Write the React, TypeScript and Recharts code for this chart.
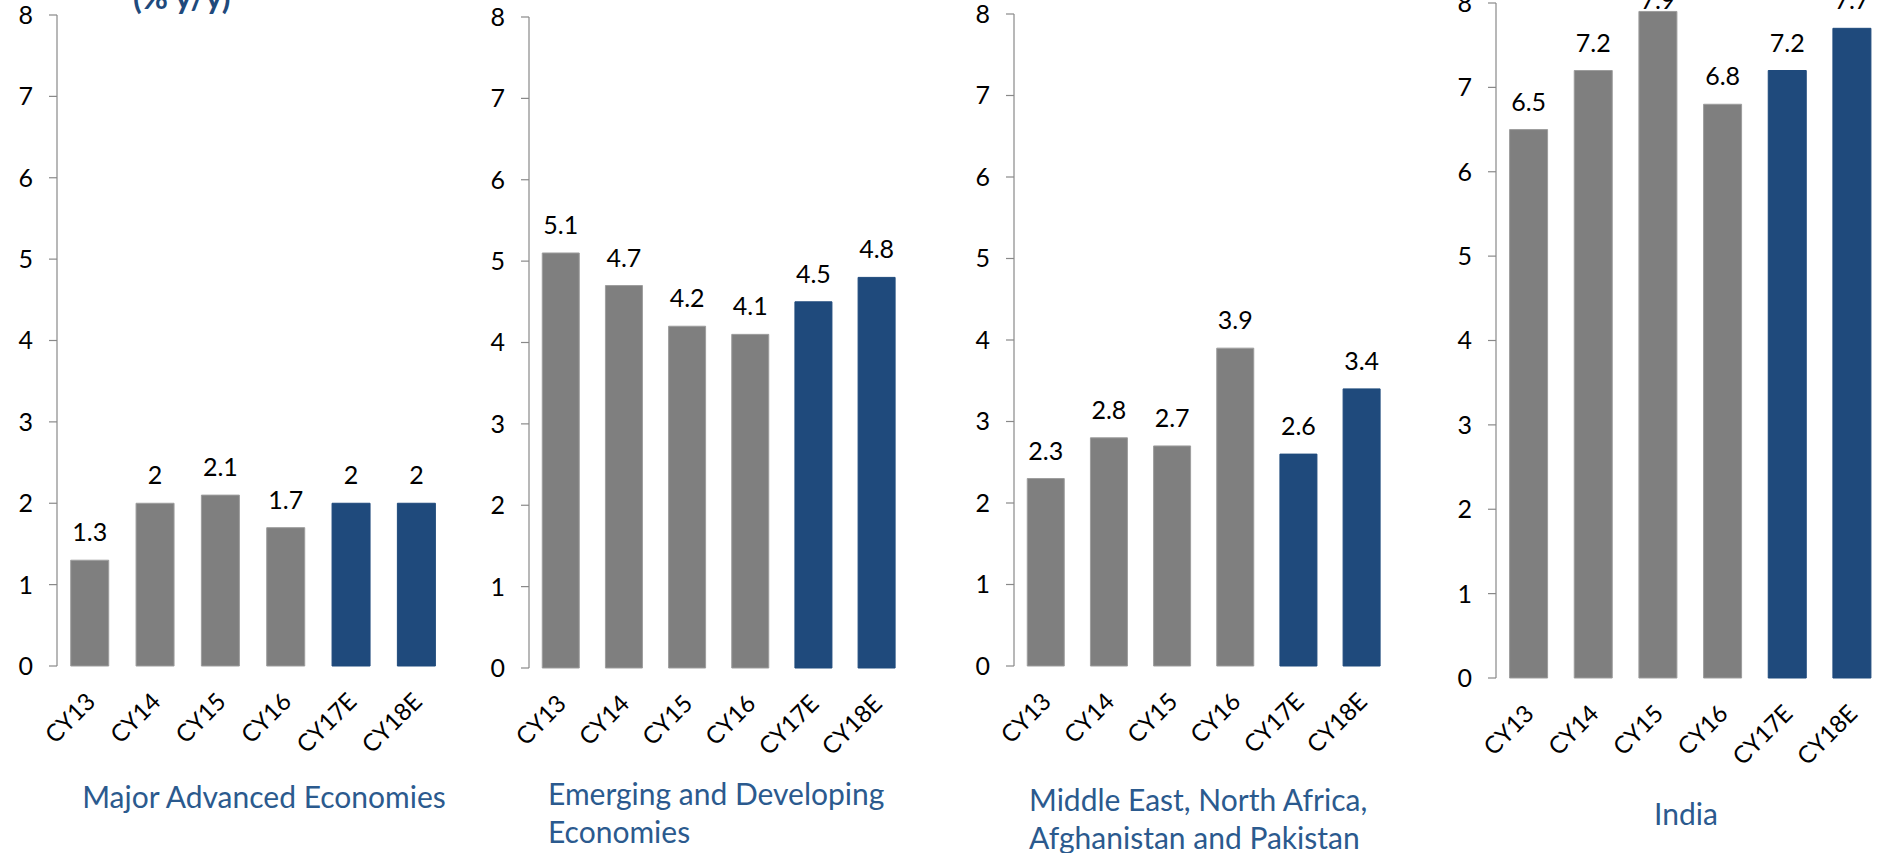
import React from "react";
import { BarChart, Bar, XAxis, YAxis, Cell, LabelList } from "recharts";

const YEARS = ["CY13", "CY14", "CY15", "CY16", "CY17E", "CY18E"];
const IS_ESTIMATE = [false, false, false, false, true, true];
const Y_TICKS = [0, 1, 2, 3, 4, 5, 6, 7, 8];
const EDGE_TICKS = [0, 1, 2, 3, 4, 5, 6];

const ADVANCED = [1.3, 2, 2.1, 1.7, 2, 2];
const EMERGING = [5.1, 4.7, 4.2, 4.1, 4.5, 4.8];
const MENAP = [2.3, 2.8, 2.7, 3.9, 2.6, 3.4];
const INDIA = [6.5, 7.2, 7.9, 6.8, 7.2, 7.7];

const FONT = "Lato, 'Open Sans', sans-serif";
const GREY = "#7f7f7f";
const BLUE = "#1f4a7c";
const AXIS = "#898989";
const CAPTION = "#2b5a8e";

const Y_W = 60;
const TOP = 20;
const X_H = 110;

const panels = [
  { values: ADVANCED, left: 57, top: 15, width: 392, height: 651 },
  { values: EMERGING, left: 529, top: 17, width: 379, height: 651 },
  { values: MENAP, left: 1014, top: 14, width: 379, height: 652 },
  { values: INDIA, left: 1496, top: 3, width: 388, height: 675 },
];

const YearTick = (props: any) => {
  const { x, y, payload } = props;
  return (
    <text
      x={0}
      y={0}
      dy="0.36em"
      textAnchor="end"
      transform={`translate(${x + 1},${y + 31}) rotate(-45)`}
      fill="#000"
      fontSize={24}
      fontFamily={FONT}
    >
      {payload.value}
    </text>
  );
};

// value label above the bar; like Excel, kept from running far past the plot top
const ValueLabel = (props: any) => {
  const { x, y, width, value } = props;
  const base = Math.max(y - 19, TOP + 6);
  return (
    <text x={x + width / 2} y={base} textAnchor="middle" fill="#000" fontSize={25} fontFamily={FONT}>
      {value}
    </text>
  );
};

function Panel({ values, left, top, width, height }: any) {
  const data = YEARS.map((name, i) => ({ name, value: values[i], est: IS_ESTIMATE[i] }));
  const w = Y_W + width + 10;
  const h = TOP + height + X_H;
  return (
    <div style={{ position: "absolute", left: left - Y_W, top: top - TOP }}>
      <BarChart
        width={w}
        height={h}
        data={data}
        margin={{ top: TOP, right: 10, bottom: 0, left: 0 }}
        barCategoryGap="21%"
      >
        <XAxis
          xAxisId="edges"
          type="number"
          domain={[0, 6]}
          ticks={EDGE_TICKS}
          allowDataOverflow
          height={0}
          tick={false}
          tickSize={8}
          axisLine={{ stroke: AXIS, strokeWidth: 1.2 }}
          tickLine={{ stroke: AXIS, strokeWidth: 1.2 }}
        />
        <XAxis
          dataKey="name"
          height={X_H}
          axisLine={false}
          tickLine={false}
          tickSize={0}
          tickMargin={0}
          interval={0}
          tick={<YearTick />}
        />
        <YAxis
          width={Y_W}
          domain={[0, 8]}
          ticks={Y_TICKS}
          interval={0}
          tickSize={8}
          tickMargin={16}
          axisLine={{ stroke: AXIS, strokeWidth: 1.2 }}
          tickLine={{ stroke: AXIS, strokeWidth: 1.2 }}
          tick={{ fill: "#000", fontSize: 25, fontFamily: FONT }}
        />
        <Bar dataKey="value" isAnimationActive={false}>
          {data.map((d, i) => (
            <Cell
              key={`c-${i}`}
              fill={d.est ? BLUE : GREY}
              stroke={d.est ? BLUE : "#9d9d9d"}
              strokeWidth={1}
            />
          ))}
          <LabelList dataKey="value" content={<ValueLabel />} />
        </Bar>
      </BarChart>
    </div>
  );
}

export default function App() {
  const cap = { fill: CAPTION, fontSize: 30, fontFamily: FONT };
  return (
    <div
      style={{
        position: "absolute",
        left: 0,
        top: 0,
        width: 1882,
        height: 853,
        overflow: "hidden",
        background: "#fff",
      }}
    >
      {panels.map((p, i) => (
        <Panel key={i} {...p} />
      ))}
      <svg
        width={1882}
        height={853}
        style={{ position: "absolute", left: 0, top: 0, pointerEvents: "none" }}
      >
        <text x={133} y={9} fill="#1f4a7c" fontSize={32} fontWeight="bold" fontFamily={FONT}>
          (% y/y)
        </text>
        <text x={264} y={808} textAnchor="middle" {...cap}>
          Major Advanced Economies
        </text>
        <text x={548} y={805} {...cap}>
          Emerging and Developing
        </text>
        <text x={548} y={843} {...cap}>
          Economies
        </text>
        <text x={1029} y={811} {...cap}>
          Middle East, North Africa,
        </text>
        <text x={1029} y={849} {...cap}>
          Afghanistan and Pakistan
        </text>
        <text x={1686} y={825} textAnchor="middle" {...cap}>
          India
        </text>
      </svg>
    </div>
  );
}
